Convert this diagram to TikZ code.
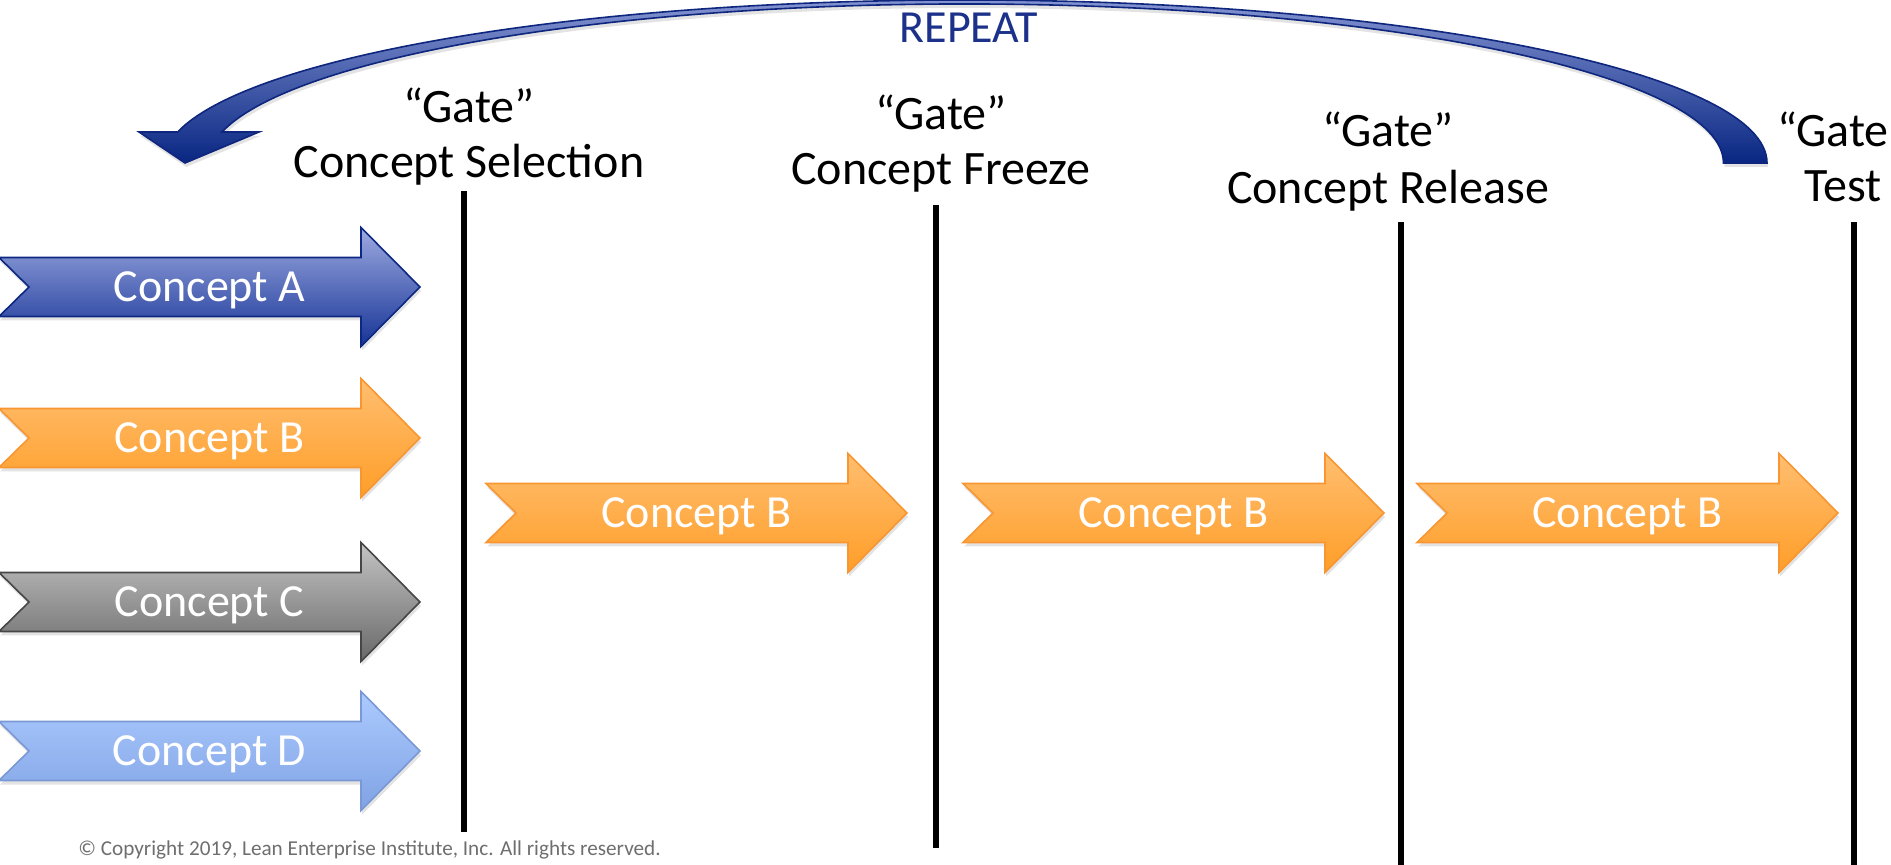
\documentclass[tikz,border=0pt]{standalone}
\usepackage{fontspec}
\setmainfont{Carlito}
\usetikzlibrary{shadows}

\definecolor{repeatblue}{RGB}{28,50,138}
\definecolor{arcedge}{RGB}{14,38,125}
\definecolor{copygrey}{RGB}{110,110,110}

\tikzset{
    gateline/.style={line width=3.2pt, black},
    gatetext/.style={anchor=base, font=\fontsize{24}{28}\selectfont, inner sep=0pt},
    concepttext/.style={anchor=base, text=white, font=\fontsize{23}{27}\selectfont, inner sep=0pt},
    arrowshadow/.style={drop shadow={opacity=0.22, shadow xshift=0.6pt, shadow yshift=-2pt}},
    conA/.style={top color={rgb,255:red,158;green,170;blue,225}, bottom color={rgb,255:red,22;green,52;blue,150}, draw={rgb,255:red,12;green,40;blue,130}, line width=0.8pt},
    conB/.style={top color={rgb,255:red,255;green,190;blue,112}, bottom color={rgb,255:red,255;green,158;blue,40}, draw={rgb,255:red,247;green,150;blue,50}, line width=0.8pt},
    conC/.style={top color={rgb,255:red,195;green,195;blue,195}, bottom color={rgb,255:red,105;green,105;blue,105}, draw={rgb,255:red,70;green,70;blue,70}, line width=0.8pt},
    conD/.style={top color={rgb,255:red,172;green,202;blue,255}, bottom color={rgb,255:red,128;green,163;blue,228}, draw={rgb,255:red,122;green,152;blue,212}, line width=0.8pt},
    repeatarrow/.style={top color={rgb,255:red,140;green,155;blue,215}, bottom color={rgb,255:red,8;green,38;blue,130}, draw=arcedge, line width=0.8pt}
}

\begin{document}
\begin{tikzpicture}[x=0.5pt,y=-0.5pt]
\useasboundingbox (0,0) rectangle (1891,865);

%%%%%%%%%%%%%%%%%%%% Repeat arc %%%%%%%%%%%%%%%%%%%%%%%%%%
\path[repeatarrow, arrowshadow] (1767,163) arc[start angle=0, end angle=-169.05, x radius=802, y radius=163]
    -- (139,132) -- (185,163) -- (259,132) -- (222,132)
    arc[start angle=-168.76, end angle=0, x radius=758, y radius=159] -- cycle;
\node[anchor=base, text=repeatblue, font=\fontsize{23}{27}\selectfont, inner sep=0pt] (rep) at (969,43) {REPEAT};

%%%%%%%%%%%%%%%%%%%% Gates %%%%%%%%%%%%%%%%%%%%%%%%%%
\foreach \index/\x/\lx/\top/\bot/\ya/\yb/\txt in {1/464/469/191/832/123/178/Concept Selection, 2/936/941/205/848/130/185/Concept Freeze, 3/1401/1388/222/866/147/204/Concept Release, 4/1854/1843/222/866/147/202/Test}
{
    \coordinate (gtop\index) at (\x,\top);
    \coordinate (gbot\index) at (\x,\bot);
    \draw[gateline] (gtop\index) -- (gbot\index);
    \node[gatetext] (gq\index) at (\lx,\ya) {“Gate”};
    \node[gatetext] (gl\index) at (\lx,\yb) {\txt};
}

%%%%%%%%%%%%%%%%%%%% Concept arrows %%%%%%%%%%%%%%%%%%%%%%%%%%
\foreach \x/\y/\sty/\name/\lbl in {-1/287/conA/ca/A, -1/438/conB/cb/B, -1/602/conC/cc/C, -1/751/conD/cd/D, 486/513/conB/s1/B, 963/513/conB/s2/B, 1417/513/conB/s3/B}
{
    \path[\sty, arrowshadow] (\x,\y-29.5) -- (\x+362,\y-29.5) -- (\x+362,\y-59.5) -- (\x+421,\y)
        -- (\x+362,\y+59.5) -- (\x+362,\y+29.5) -- (\x,\y+29.5) -- (\x+30,\y) -- cycle;
    \node[concepttext] (\name) at (\x+210.5,\y+14.5) {Concept \lbl};
}

% copyright line
\node[anchor=base west, text=copygrey, font=\fontsize{10.6}{12.5}\selectfont, inner sep=0pt] (copy) at (78,855) {© Copyright 2019, Lean Enterprise Institute, Inc. All rights reserved.};

\end{tikzpicture}
\end{document}
